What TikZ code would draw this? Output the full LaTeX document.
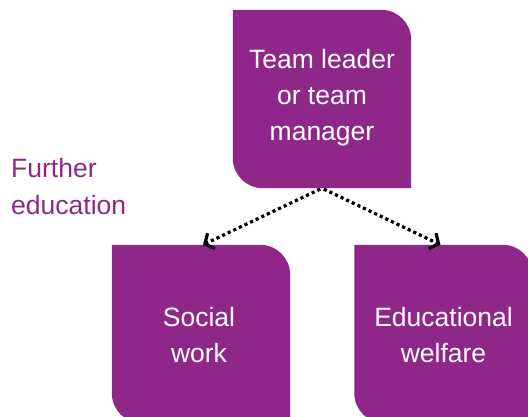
\documentclass[tikz,border=0pt]{standalone}
\usepackage{fontspec}
\setmainfont{Liberation Sans}
\usetikzlibrary{arrows.meta}
\definecolor{rolepurple}{RGB}{143,39,139}
\tikzset{
  role/.style={minimum width=178pt, minimum height=178pt, inner sep=0pt,
    align=center, text=white,
    font=\fontsize{26.5pt}{36pt}\selectfont},
  pathway/.style={line width=3.2pt, dash pattern=on 3.2pt off 3pt,
    -{Straight Barb[length=7pt,width=17pt,line width=3.2pt]}},
  note/.style={inner sep=0pt, align=left, text=rolepurple,
    font=\fontsize{26.5pt}{37pt}\selectfont}
}
% box with rounded top-right and bottom-left corners
\newcommand{\rolebox}[1]{%
  \fill[rolepurple] (#1.north west) -- ([xshift=-30pt]#1.north east)
    arc[start angle=90, end angle=0, radius=30pt] -- (#1.south east)
    -- ([xshift=30pt]#1.south west)
    arc[start angle=270, end angle=180, radius=30pt] -- cycle;}
\begin{document}
\begin{tikzpicture}[x=1pt, y=1pt]
\useasboundingbox (0,0) rectangle (528,416);
\node[role] (lead) at (322,317) {};
\node[role] (social) at (201,82) {};
\node[role] (welfare) at (443.5,82) {};
\rolebox{lead}
\rolebox{social}
\rolebox{welfare}
\node[role] at ([yshift=1pt]lead) {Team leader\\or team\\manager};
\node[role] at ([xshift=-2pt,yshift=-1pt]social) {Social\\work};
\node[role] at ([yshift=-1pt]welfare) {Educational\\welfare};
\node[note, anchor=north west] (further) at (11,258) {Further\\education};
\draw[pathway, shorten <=2pt] (lead.south) -- ([xshift=2pt]social.north);
\draw[pathway, shorten <=2pt] (lead.south) -- ([xshift=-3pt]welfare.north);
\end{tikzpicture}
\end{document}
